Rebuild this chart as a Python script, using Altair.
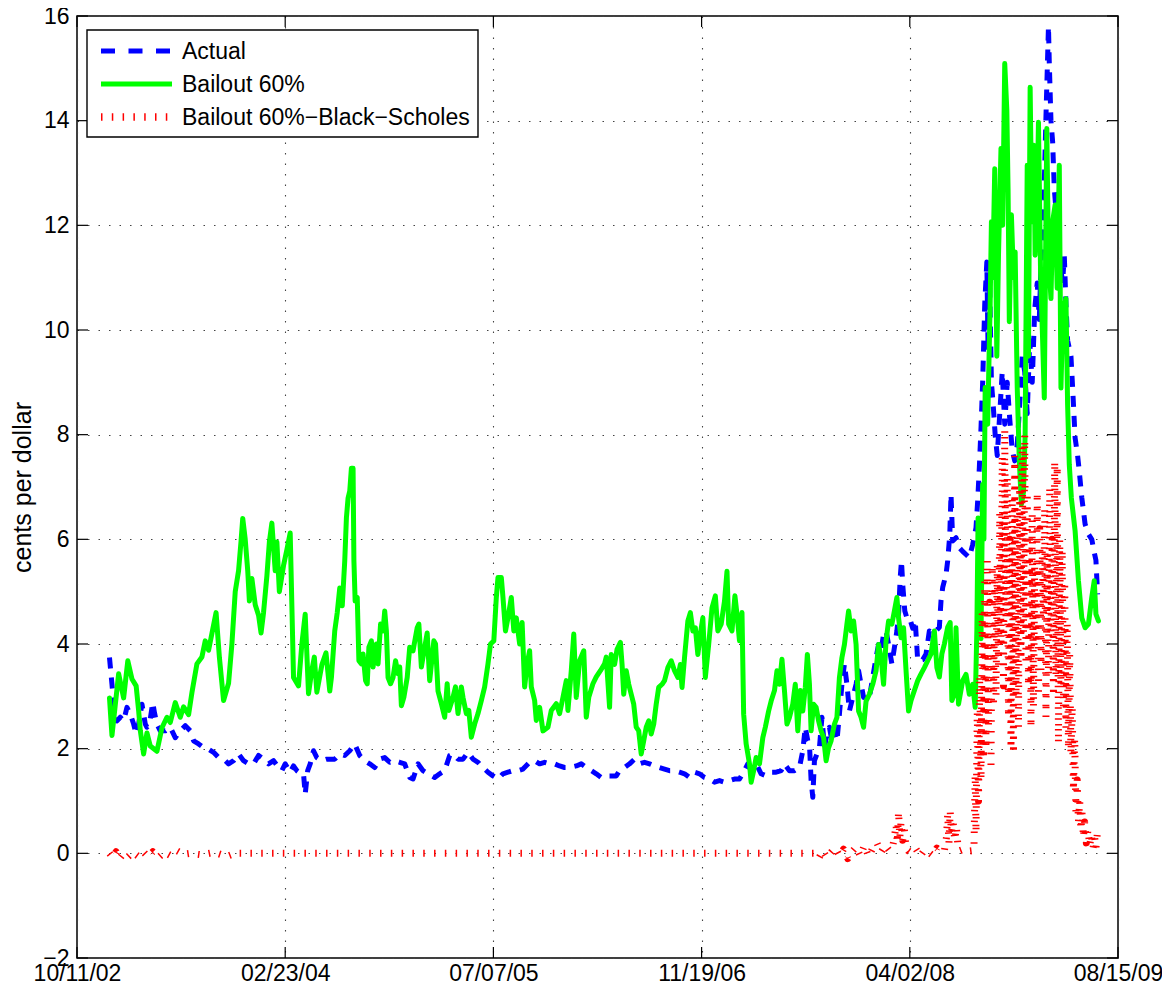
import altair as alt
import pandas as pd

START = pd.Timestamp("2002-10-11")
FONT = "Liberation Sans"

# ---- data: (days since 10/11/02, cents per dollar) ----
actual_pts = [
    (78, 3.74), (84, 3.23), (88, 2.85), (96, 2.53), (104, 2.60), (112, 2.53), (120, 2.79), (128, 2.66),
    (136, 2.47), (142, 2.28), (148, 2.47), (156, 2.85), (164, 2.47), (168, 2.41), (174, 2.47), (182, 2.88),
    (186, 2.69), (192, 2.47), (200, 2.34), (212, 2.34), (224, 2.41), (236, 2.21), (248, 2.34), (260, 2.44),
    (272, 2.34), (280, 2.15), (292, 2.09), (304, 2.02), (316, 1.99), (328, 1.93), (340, 1.83), (352, 1.80),
    (364, 1.71), (376, 1.77), (388, 1.90), (400, 1.77), (412, 1.71), (424, 1.71), (436, 1.87), (448, 1.80),
    (460, 1.71), (472, 1.77), (484, 1.64), (492, 1.58), (500, 1.71), (512, 1.55), (520, 1.67), (528, 1.58),
    (538, 1.52), (544, 1.52), (548, 1.13), (554, 1.58), (560, 1.71), (568, 1.96), (576, 1.83), (588, 1.77),
    (600, 1.80), (607, 1.80), (619, 1.80), (631, 1.90), (643, 1.87), (655, 1.96), (667, 2.09), (679, 1.87),
    (691, 1.77), (703, 1.71), (715, 1.64), (727, 1.80), (739, 1.83), (751, 1.74), (763, 1.77), (775, 1.74),
    (787, 1.71), (799, 1.45), (807, 1.42), (819, 1.71), (831, 1.58), (843, 1.52), (859, 1.45), (871, 1.52),
    (883, 1.58), (895, 1.87), (903, 1.90), (915, 1.80), (927, 1.80), (939, 1.93), (951, 1.80), (963, 1.74),
    (975, 1.64), (987, 1.55), (999, 1.48), (1011, 1.42), (1023, 1.52), (1035, 1.55), (1047, 1.58), (1059, 1.58),
    (1071, 1.61), (1087, 1.74), (1099, 1.77), (1111, 1.71), (1123, 1.74), (1135, 1.71), (1147, 1.71), (1159, 1.67),
    (1171, 1.64), (1183, 1.64), (1199, 1.67), (1211, 1.71), (1223, 1.64), (1235, 1.58), (1247, 1.52), (1259, 1.45),
    (1271, 1.48), (1287, 1.48), (1295, 1.48), (1303, 1.58), (1315, 1.64), (1327, 1.71), (1339, 1.80), (1351, 1.71),
    (1363, 1.74), (1375, 1.71), (1387, 1.67), (1399, 1.64), (1411, 1.61), (1423, 1.58), (1435, 1.58), (1447, 1.55),
    (1459, 1.52), (1471, 1.45), (1483, 1.55), (1495, 1.52), (1507, 1.45), (1519, 1.42), (1531, 1.36), (1543, 1.39),
    (1555, 1.36), (1567, 1.39), (1579, 1.42), (1591, 1.42), (1603, 1.58), (1611, 1.71), (1619, 1.64), (1631, 1.71),
    (1643, 1.52), (1655, 1.48), (1667, 1.55), (1679, 1.55), (1691, 1.58), (1699, 1.71), (1711, 1.58), (1723, 1.58),
    (1735, 1.64), (1743, 1.96), (1749, 2.41), (1755, 2.15), (1759, 2.09), (1763, 1.39), (1767, 1.07), (1771, 1.77),
    (1777, 1.90), (1783, 2.02), (1789, 2.60), (1795, 2.02), (1801, 2.28), (1807, 2.41), (1813, 2.15), (1819, 2.34),
    (1825, 2.15), (1831, 2.66), (1837, 3.23), (1843, 3.62), (1849, 3.23), (1855, 2.72), (1863, 2.98), (1871, 3.23),
    (1877, 3.49), (1883, 3.23), (1889, 2.98), (1895, 3.04), (1903, 2.98), (1911, 3.36), (1919, 3.74), (1925, 3.99),
    (1931, 3.87), (1937, 4.19), (1943, 4.25), (1949, 3.99), (1957, 3.62), (1963, 3.93), (1969, 4.25), (1973, 4.57),
    (1977, 5.27), (1980, 5.59), (1983, 5.14), (1988, 4.63), (1993, 4.50), (1999, 4.51), (2007, 4.30), (2013, 4.45),
    (2019, 3.68), (2031, 3.70), (2039, 3.81), (2047, 4.25), (2055, 4.20), (2063, 4.25), (2071, 4.32), (2075, 4.83),
    (2079, 5.08), (2087, 5.33), (2091, 5.59), (2096, 6.09), (2099, 6.86), (2103, 5.97), (2111, 6.03), (2119, 5.84),
    (2127, 5.77), (2135, 5.71), (2143, 5.65), (2151, 5.90), (2159, 6.22), (2163, 6.73), (2167, 7.37), (2171, 8.13),
    (2175, 9.0), (2180, 10.5), (2185, 11.3), (2188, 9.6), (2192, 10.8), (2196, 9.0), (2200, 8.6), (2205, 8.0),
    (2210, 7.6), (2216, 8.4), (2222, 9.2), (2228, 8.2), (2234, 9.0), (2240, 8.3), (2246, 7.7), (2252, 7.5),
    (2258, 7.8), (2264, 8.6), (2270, 9.5), (2276, 9.2), (2282, 8.4), (2288, 9.8), (2294, 9.0), (2300, 10.4),
    (2306, 10.9), (2311, 10.2), (2316, 11.5), (2322, 12.5), (2327, 14.08), (2333, 15.8), (2335, 15.1), (2339, 14.0),
    (2343, 13.6), (2347, 12.7), (2351, 12.3), (2359, 11.4), (2367, 10.9), (2371, 11.43), (2375, 10.5), (2379, 9.8),
    (2387, 9.5), (2391, 8.9), (2397, 7.94), (2403, 7.6), (2407, 7.3), (2413, 6.8), (2421, 6.29), (2429, 6.1),
    (2437, 6.0), (2443, 5.75), (2447, 5.6), (2451, 4.95),
]

bailout_pts = [
    (78, 2.97), (84, 2.25), (100, 3.43), (112, 2.97), (122, 3.68), (132, 3.33), (142, 3.2), (148, 2.73),
    (152, 2.35), (160, 1.9), (168, 2.3), (176, 2.05), (192, 1.95), (204, 2.4), (216, 2.6), (224, 2.5),
    (236, 2.88), (248, 2.6), (256, 2.8), (268, 2.65), (276, 3.07), (288, 3.62), (300, 3.75), (308, 4.06),
    (316, 3.88), (324, 4.2), (334, 4.6), (342, 3.74), (352, 2.92), (364, 3.25), (372, 4.0), (380, 5.0),
    (388, 5.4), (394, 5.97), (398, 6.4), (404, 6.0), (410, 5.4), (414, 4.82), (420, 5.25), (428, 4.75),
    (436, 4.55), (442, 4.21), (448, 4.6), (456, 5.3), (462, 5.95), (468, 6.31), (476, 5.4), (480, 5.95),
    (486, 5.0), (496, 5.5), (504, 5.8), (512, 6.12), (520, 3.36), (532, 3.2), (540, 4.0), (548, 4.57),
    (556, 3.05), (564, 3.5), (570, 3.75), (576, 3.08), (588, 3.6), (598, 3.83), (607, 3.1), (611, 3.36),
    (619, 4.25), (625, 4.6), (631, 5.07), (637, 4.73), (643, 5.59), (647, 6.41), (651, 6.79), (655, 6.92),
    (659, 7.36), (663, 7.36), (665, 5.59), (668, 4.82), (673, 4.89), (677, 3.68), (683, 3.62), (687, 3.81),
    (693, 3.3), (697, 3.24), (701, 3.94), (707, 4.06), (711, 3.56), (719, 4.0), (723, 3.62), (729, 4.38),
    (735, 4.25), (739, 4.63), (743, 4.25), (747, 3.36), (753, 3.24), (759, 3.36), (765, 3.68), (771, 3.43),
    (775, 3.56), (779, 2.82), (785, 2.98), (793, 3.36), (799, 3.94), (807, 3.87), (817, 4.31), (821, 4.38),
    (827, 3.56), (835, 3.94), (841, 4.21), (847, 3.3), (857, 4.06), (861, 4.0), (867, 3.1), (875, 2.86),
    (883, 2.6), (889, 3.24), (893, 2.73), (903, 2.98), (909, 3.18), (915, 2.67), (923, 3.18), (927, 2.98),
    (935, 2.67), (941, 2.73), (947, 2.22), (955, 2.47), (963, 2.67), (971, 2.92), (979, 3.18), (987, 3.62),
    (993, 4.0), (1001, 4.06), (1007, 4.89), (1011, 5.27), (1019, 5.27), (1023, 4.89), (1029, 4.25), (1035, 4.5),
    (1043, 4.89), (1049, 4.25), (1055, 4.5), (1063, 4.0), (1069, 4.41), (1075, 3.18), (1081, 3.62), (1087, 3.87),
    (1091, 3.18), (1099, 2.92), (1103, 2.54), (1111, 2.79), (1119, 2.34), (1131, 2.41), (1139, 2.73), (1151, 2.86),
    (1159, 2.67), (1167, 2.98), (1175, 3.3), (1179, 2.73), (1187, 3.49), (1193, 4.19), (1199, 2.98), (1207, 3.68),
    (1217, 3.87), (1223, 2.6), (1229, 2.98), (1239, 3.24), (1247, 3.37), (1257, 3.49), (1267, 3.62), (1271, 3.75),
    (1279, 2.79), (1283, 3.80), (1291, 3.61), (1297, 3.90), (1305, 4.03), (1309, 3.61), (1313, 3.04), (1319, 3.49),
    (1325, 3.23), (1331, 3.04), (1337, 2.85), (1343, 2.41), (1349, 2.34), (1355, 1.90), (1361, 2.15), (1367, 2.41),
    (1373, 2.53), (1379, 2.28), (1385, 2.47), (1391, 2.85), (1397, 3.17), (1405, 3.23), (1411, 3.30), (1419, 3.55),
    (1427, 3.68), (1435, 3.49), (1443, 3.36), (1449, 3.61), (1453, 3.17), (1459, 3.74), (1467, 4.44), (1473, 4.60),
    (1479, 4.25), (1485, 4.31), (1491, 3.80), (1497, 4.19), (1503, 4.50), (1509, 3.36), (1517, 3.99), (1525, 4.69),
    (1533, 4.92), (1539, 4.25), (1547, 4.38), (1555, 4.82), (1561, 5.39), (1565, 4.38), (1573, 4.25), (1580, 4.92),
    (1585, 4.57), (1591, 4.06), (1597, 4.60), (1601, 2.66), (1607, 2.09), (1615, 1.71), (1619, 1.36), (1625, 1.58),
    (1631, 1.83), (1639, 1.71), (1647, 2.21), (1653, 2.41), (1661, 2.72), (1667, 2.91), (1675, 3.11), (1681, 3.49),
    (1687, 3.23), (1693, 3.71), (1699, 3.11), (1705, 2.47), (1711, 2.60), (1719, 2.85), (1725, 3.23), (1731, 2.34),
    (1737, 3.11), (1743, 2.72), (1749, 3.17), (1754, 3.80), (1759, 3.23), (1763, 2.34), (1769, 2.85), (1775, 2.79),
    (1781, 2.53), (1787, 2.34), (1793, 2.21), (1799, 1.77), (1805, 2.02), (1811, 2.15), (1819, 2.47), (1825, 2.60),
    (1831, 3.36), (1837, 3.74), (1843, 3.99), (1849, 4.38), (1853, 4.63), (1859, 4.25), (1865, 4.44), (1871, 3.99),
    (1877, 2.72), (1883, 2.60), (1889, 2.41), (1895, 2.91), (1903, 3.04), (1911, 3.23), (1919, 3.49), (1925, 3.99),
    (1931, 3.74), (1937, 3.23), (1943, 4.06), (1949, 4.44), (1957, 4.38), (1963, 4.63), (1969, 4.89), (1973, 4.50),
    (1979, 4.12), (1985, 4.31), (1991, 3.49), (1997, 2.72), (2003, 2.92), (2011, 3.11), (2019, 3.30), (2027, 3.43),
    (2035, 3.55), (2043, 3.68), (2051, 3.81), (2059, 4.25), (2065, 3.55), (2071, 3.37), (2077, 3.81), (2083, 4.0),
    (2091, 4.32), (2097, 4.41), (2101, 2.92), (2107, 3.04), (2111, 4.31), (2117, 2.85), (2127, 3.30), (2135, 3.42),
    (2143, 3.04), (2151, 3.23), (2157, 2.79), (2161, 4.25), (2164, 6.41), (2167, 5.5), (2171, 4.1), (2175, 7.05),
    (2178, 6.0), (2181, 8.9), (2187, 8.2), (2193, 10.5), (2196, 12.07), (2199, 11.0), (2204, 13.08), (2209, 9.5),
    (2213, 11.43), (2219, 13.47), (2223, 12.0), (2228, 15.09), (2233, 14.2), (2236, 12.7), (2239, 10.16), (2244, 12.2),
    (2249, 11.0), (2253, 11.49), (2258, 8.9), (2263, 7.5), (2268, 6.67), (2273, 6.9), (2277, 8.0), (2282, 13.15),
    (2285, 9.5), (2289, 14.64), (2293, 12.07), (2298, 13.53), (2301, 11.43), (2306, 12.5), (2309, 13.97), (2314, 11.11),
    (2319, 9.8), (2323, 8.7), (2329, 13.85), (2333, 11.43), (2339, 10.6), (2343, 12.07), (2349, 12.39), (2354, 10.8),
    (2359, 13.15), (2363, 8.89), (2367, 10.2), (2372, 10.48), (2375, 10.6), (2379, 8.57), (2383, 7.43), (2388, 6.79),
    (2397, 6.16), (2405, 5.21), (2413, 4.50), (2421, 4.31), (2429, 4.38), (2437, 4.89), (2443, 5.21), (2447, 4.57),
    (2453, 4.44),
]

black_scholes_pts = [
    (78, 0.0), (86, -0.08), (94, 0.03), (102, -0.1), (112, 0.0), (122, -0.07), (134, 0.02), (146, -0.05),
    (158, 0.04), (170, -0.06), (182, 0.03), (196, -0.08), (210, 0.02), (224, -0.04), (240, 0.05), (256, -0.02),
    (272, 0.0), (300, -0.03), (330, 0.02), (360, -0.06), (380, 0.0), (600, 0.0), (1000, 0.0), (1400, 0.0),
    (1750, 0.0), (1771, 0.0), (1781, -0.1), (1791, 0.05), (1801, -0.08), (1811, 0.02), (1821, 0.1), (1831, -0.05),
    (1841, 0.08), (1851, -0.1), (1861, 0.03), (1871, 0.12), (1881, -0.05), (1891, 0.15), (1901, -0.06), (1911, 0.1),
    (1921, 0.2), (1931, 0.02), (1941, 0.15), (1951, 0.05), (1958, 0.1), (1963, 0.3), (1967, 0.55), (1970, 0.2),
    (1973, 0.8), (1976, 0.3), (1979, 0.6), (1983, 0.25), (1987, 0.45), (1991, 0.1), (1996, 0.05), (2005, 0.0),
    (2015, 0.08), (2025, -0.05), (2035, 0.06), (2045, 0.02), (2055, -0.04), (2065, 0.1), (2075, 0.03), (2083, 0.05),
    (2088, 0.3), (2091, 0.75), (2094, 0.2), (2097, 0.8), (2100, 0.4), (2104, 0.6), (2108, 0.25), (2112, 0.5),
    (2116, 0.1), (2120, 0.05), (2130, 0.08), (2140, 0.04), (2150, 0.05), (2154, 0.05), (2157, 1.5), (2159, 0.4),
    (2162, 2.7), (2165, 1.0), (2168, 3.4), (2171, 1.4), (2174, 4.6), (2177, 1.8), (2180, 5.2), (2183, 2.0),
    (2186, 5.6), (2189, 2.4), (2192, 4.8), (2195, 1.6), (2198, 5.5), (2201, 2.8), (2204, 5.2), (2207, 3.0),
    (2210, 5.5), (2213, 3.6), (2216, 6.5), (2219, 4.0), (2222, 7.6), (2225, 3.2), (2228, 8.1), (2231, 4.5),
    (2234, 7.2), (2237, 2.6), (2240, 6.0), (2243, 2.0), (2246, 6.8), (2249, 1.9), (2252, 7.6), (2255, 3.0),
    (2258, 6.6), (2261, 2.4), (2264, 7.0), (2267, 3.7), (2270, 7.8), (2273, 4.2), (2276, 8.0), (2279, 3.6),
    (2282, 6.9), (2285, 3.2), (2288, 6.1), (2291, 2.4), (2294, 6.5), (2297, 2.8), (2300, 5.5), (2303, 4.0),
    (2306, 6.9), (2309, 3.0), (2312, 6.2), (2315, 3.5), (2318, 5.8), (2321, 4.5), (2324, 6.6), (2327, 2.6),
    (2330, 5.7), (2333, 3.4), (2336, 7.0), (2339, 4.2), (2342, 6.0), (2345, 3.0), (2348, 7.5), (2351, 3.4),
    (2354, 7.4), (2357, 2.1), (2360, 6.0), (2363, 3.2), (2366, 5.8), (2369, 2.8), (2372, 5.2), (2375, 2.4),
    (2378, 4.4), (2381, 2.0), (2384, 3.8), (2387, 1.9), (2390, 2.8), (2393, 1.2), (2396, 2.2), (2399, 0.8),
    (2402, 1.4), (2405, 0.6), (2408, 1.0), (2411, 0.45), (2414, 0.8), (2417, 0.3), (2420, 0.6), (2424, 0.2),
    (2428, 0.45), (2432, 0.15), (2436, 0.35), (2440, 0.1), (2444, 0.3), (2447, 0.1), (2450, 0.35),
]

series_names = ["Actual", "Bailout 60%", "Bailout 60%\u2212Black\u2212Scholes"]
x_tick_dates = ["2002-10-11", "2004-02-23", "2005-07-07", "2006-11-19", "2008-04-02", "2009-08-15"]
y_tick_values = [-2, 0, 2, 4, 6, 8, 10, 12, 14, 16]


def frame(pts):
    days = [p[0] for p in pts]
    vals = [p[1] for p in pts]
    return pd.DataFrame({"date": START + pd.to_timedelta(days, unit="D"), "value": vals})


df_actual = frame(actual_pts)
df_bailout = frame(bailout_pts)
df_bs = frame(black_scholes_pts)
df_xticks = pd.DataFrame({"date": pd.to_datetime(x_tick_dates)})
df_yticks = pd.DataFrame({"value": y_tick_values})

W, H = 1041, 942


def dt(s):
    t = pd.Timestamp(s)
    return alt.DateTime(year=t.year, month=t.month, date=t.day)


x_scale = alt.Scale(domain=[dt(x_tick_dates[0]), dt(x_tick_dates[-1])], nice=False)
y_scale = alt.Scale(domain=[-2, 16], nice=False, zero=False)

x_axis = alt.Axis(
    values=[dt(s) for s in x_tick_dates], format="%m/%d/%y", title=None,
    labelFont=FONT, labelFontSize=23, labelColor="black", labelPadding=4,
    labelFlush=False, labelOverlap=False, labelBound=False,
    ticks=False, domain=False, grid=True, gridColor="#444", gridDash=[1.5, 9], gridWidth=1.1,
)
y_axis = alt.Axis(
    values=y_tick_values, title="cents per dollar",
    titleFont=FONT, titleFontSize=25, titleFontWeight="normal", titleColor="black",
    titleX=-55, titleY=H / 2, titleBaseline="middle", titleAngle=-90,
    labelFont=FONT, labelFontSize=23, labelColor="black", labelPadding=8,
    labelFlush=False, labelOverlap=False, labelBound=False,
    ticks=False, domain=False, grid=True, gridColor="#444", gridDash=[1.5, 9], gridWidth=1.1,
)

X = alt.X("date:T", scale=x_scale, axis=x_axis)
Y = alt.Y("value:Q", scale=y_scale, axis=y_axis)

actual = alt.Chart(df_actual).mark_line(
    color="#0000ff", strokeWidth=5, strokeDash=[11, 9], strokeCap="butt", strokeJoin="round", clip=True
).encode(x=X, y=Y)

bailout = alt.Chart(df_bailout).mark_line(
    color="#00ff00", strokeWidth=5, strokeCap="round", strokeJoin="round", clip=True
).encode(x=X, y=Y)

bs = alt.Chart(df_bs).mark_line(
    color="#ff0000", strokeWidth=7, strokeDash=[1.5, 9.3], strokeCap="butt", strokeJoin="round", clip=True
).encode(x=X, y=Y)

TL = 11
tick_style = dict(color="black", strokeWidth=1.2)
xt_bottom = alt.Chart(df_xticks).mark_rule(**tick_style).encode(x=X, y=alt.value(H - TL), y2=alt.value(H))
xt_top = alt.Chart(df_xticks).mark_rule(**tick_style).encode(x=X, y=alt.value(0), y2=alt.value(TL))
yt_left = alt.Chart(df_yticks).mark_rule(**tick_style).encode(y=Y, x=alt.value(0), x2=alt.value(TL))
yt_right = alt.Chart(df_yticks).mark_rule(**tick_style).encode(y=Y, x=alt.value(W - TL), x2=alt.value(W))

# legend drawn inside the plot, upper left
df_leg = pd.DataFrame({"name": series_names})
leg_box = alt.Chart(df_leg.head(1)).mark_rect(fill="white", stroke="black", strokeWidth=1.4).encode(
    x=alt.value(10), x2=alt.value(401), y=alt.value(14), y2=alt.value(121)
)
leg_rows = [35, 68, 101]
leg_styles = [
    dict(color="#0000ff", strokeWidth=5, strokeDash=[14, 13.5], strokeCap="butt"),
    dict(color="#00ff00", strokeWidth=5, strokeCap="butt"),
    dict(color="#ff0000", strokeWidth=7.5, strokeDash=[1.5, 9.3], strokeCap="butt"),
]
leg_layers = [leg_box]
for i, name in enumerate(series_names):
    one = pd.DataFrame({"name": [name]})
    leg_layers.append(
        alt.Chart(one).mark_rule(**leg_styles[i]).encode(
            x=alt.value(24), x2=alt.value(95), y=alt.value(leg_rows[i])
        )
    )
    leg_layers.append(
        alt.Chart(one).mark_text(align="left", baseline="middle", font=FONT, fontSize=23, color="black").encode(
            x=alt.value(105), y=alt.value(leg_rows[i] + 1), text="name:N"
        )
    )

chart = alt.layer(
    actual, bailout, bs, xt_bottom, xt_top, yt_left, yt_right, *leg_layers
).properties(
    width=W, height=H,
    autosize=alt.AutoSizeParams(type="none"),
    padding={"left": 69, "top": 8, "right": 44, "bottom": 27},
    background="white",
).configure_view(stroke="black", strokeWidth=1.5)

chart.save("out.html", embed_options={"renderer": "svg", "actions": False})
